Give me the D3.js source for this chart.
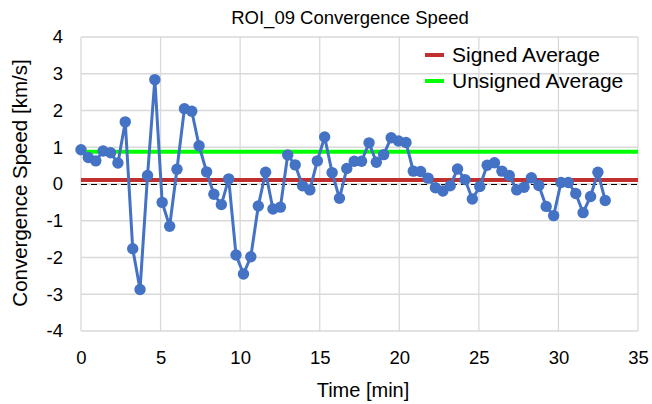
<!DOCTYPE html>
<html>
<head>
<meta charset="utf-8">
<script src="https://cdn.jsdelivr.net/npm/d3@7/dist/d3.min.js"></script>
<style>
  html, body { margin: 0; padding: 0; background: #ffffff; }
  svg { display: block; font-family: "Liberation Sans", Arial, sans-serif; }
</style>
</head>
<body>
<svg id="chart" width="652" height="404"></svg>
<script>
const timeMin = [0, 0.46, 0.93, 1.39, 1.86, 2.32, 2.78, 3.25, 3.71, 4.18,
  4.64, 5.10, 5.57, 6.03, 6.50, 6.96, 7.42, 7.89, 8.35, 8.82,
  9.28, 9.74, 10.21, 10.67, 11.14, 11.60, 12.06, 12.53, 12.99, 13.46,
  13.92, 14.38, 14.85, 15.31, 15.78, 16.24, 16.70, 17.17, 17.63, 18.10,
  18.56, 19.02, 19.49, 19.95, 20.42, 20.88, 21.34, 21.81, 22.27, 22.74,
  23.20, 23.66, 24.13, 24.59, 25.06, 25.52, 25.98, 26.45, 26.91, 27.38,
  27.84, 28.30, 28.77, 29.23, 29.70, 30.16, 30.62, 31.09, 31.55, 32.02,
  32.48, 32.94];
const speed = [0.93, 0.72, 0.63, 0.90, 0.85, 0.57, 1.69, -1.76, -2.87, 0.23,
  2.84, -0.50, -1.15, 0.40, 2.05, 1.98, 1.04, 0.33, -0.28, -0.56,
  0.14, -1.93, -2.45, -1.98, -0.60, 0.32, -0.68, -0.63, 0.79, 0.52,
  -0.05, -0.16, 0.63, 1.28, 0.31, -0.39, 0.42, 0.62, 0.62, 1.12,
  0.59, 0.80, 1.26, 1.17, 1.13, 0.35, 0.34, 0.16, -0.10, -0.19,
  -0.05, 0.41, 0.12, -0.41, -0.07, 0.51, 0.58, 0.35, 0.23, -0.16,
  -0.09, 0.17, -0.04, -0.61, -0.86, 0.04, 0.04, -0.26, -0.78, -0.34,
  0.32, -0.45];
const signedAverage = 0.11;
const unsignedAverage = 0.88;
const xTicks = [0, 5, 10, 15, 20, 25, 30, 35];
const yTicks = [-4, -3, -2, -1, 0, 1, 2, 3, 4];
const legendLabels = ["Signed Average", "Unsigned Average"];

const W = 652, H = 404;
const m = { left: 81, right: 14, top: 37, bottom: 73 };
const svg = d3.select("#chart");
const x = d3.scaleLinear().domain([0, 35]).range([m.left, W - m.right]);
const y = d3.scaleLinear().domain([-4, 4]).range([H - m.bottom, m.top]);

// gridlines
const grid = svg.append("g");
grid.selectAll("line.h").data(yTicks).join("line")
  .attr("x1", x(0)).attr("x2", x(35))
  .attr("y1", d => y(d)).attr("y2", d => y(d))
  .attr("stroke", "#d9d9d9").attr("stroke-width", 1.3);
grid.selectAll("line.v").data(xTicks).join("line")
  .attr("y1", y(-4)).attr("y2", y(4))
  .attr("x1", d => x(d)).attr("x2", d => x(d))
  .attr("stroke", "#d9d9d9").attr("stroke-width", 1.3);

// axes
const fmt = d => String(d);
const ax = svg.append("g").attr("transform", `translate(0,${y(-4)})`)
  .call(d3.axisBottom(x).tickValues(xTicks).tickSize(0).tickPadding(20).tickFormat(fmt));
const ay = svg.append("g").attr("transform", `translate(${x(0)},0)`)
  .call(d3.axisLeft(y).tickValues(yTicks).tickSize(0).tickPadding(18).tickFormat(fmt));
[ax, ay].forEach(a => {
  a.select(".domain").remove();
  a.selectAll("text").attr("font-size", 18.5).attr("fill", "#000")
    .attr("font-family", "'Liberation Sans', Arial, sans-serif");
});

// zero dashed line
svg.append("line")
  .attr("x1", x(0)).attr("x2", x(35)).attr("y1", y(0) + 0.5).attr("y2", y(0) + 0.5)
  .attr("stroke", "#000").attr("stroke-width", 1).attr("stroke-dasharray", "6,4");

// averages
svg.append("line")
  .attr("x1", x(0)).attr("x2", x(35)).attr("y1", y(signedAverage)).attr("y2", y(signedAverage))
  .attr("stroke", "#c0302f").attr("stroke-width", 4);
svg.append("line")
  .attr("x1", x(0)).attr("x2", x(35)).attr("y1", y(unsignedAverage)).attr("y2", y(unsignedAverage))
  .attr("stroke", "#00ff00").attr("stroke-width", 4);

// series
const data = timeMin.map((t, i) => ({ t, v: speed[i] }));
svg.append("path").datum(data)
  .attr("fill", "none").attr("stroke", "#4472c4").attr("stroke-width", 3)
  .attr("stroke-linejoin", "round")
  .attr("d", d3.line().x(d => x(d.t)).y(d => y(d.v)));
svg.append("g").selectAll("circle").data(data).join("circle")
  .attr("cx", d => x(d.t)).attr("cy", d => y(d.v)).attr("r", 5.7)
  .attr("fill", "#4472c4");

// title
svg.append("text").attr("x", 350).attr("y", 24).attr("text-anchor", "middle")
  .attr("font-size", 18.5).attr("fill", "#000").text("ROI_09 Convergence Speed");

// axis titles
svg.append("text").attr("x", 363).attr("y", 397).attr("text-anchor", "middle")
  .attr("font-size", 20).attr("fill", "#000").text("Time [min]");
svg.append("text").attr("transform", `translate(27,183) rotate(-90)`)
  .attr("text-anchor", "middle").attr("font-size", 20.5).attr("fill", "#000")
  .text("Convergence Speed [km/s]");

// legend
const legendColors = ["#c0302f", "#00ff00"];
const lg = svg.append("g");
legendLabels.forEach((lab, i) => {
  const ly = 55 + i * 26;
  lg.append("line").attr("x1", 425).attr("x2", 444).attr("y1", ly).attr("y2", ly)
    .attr("stroke", legendColors[i]).attr("stroke-width", 4);
  lg.append("text").attr("x", 452).attr("y", ly + 7).attr("font-size", 21)
    .attr("fill", "#000").text(lab);
});
</script>
</body>
</html>
